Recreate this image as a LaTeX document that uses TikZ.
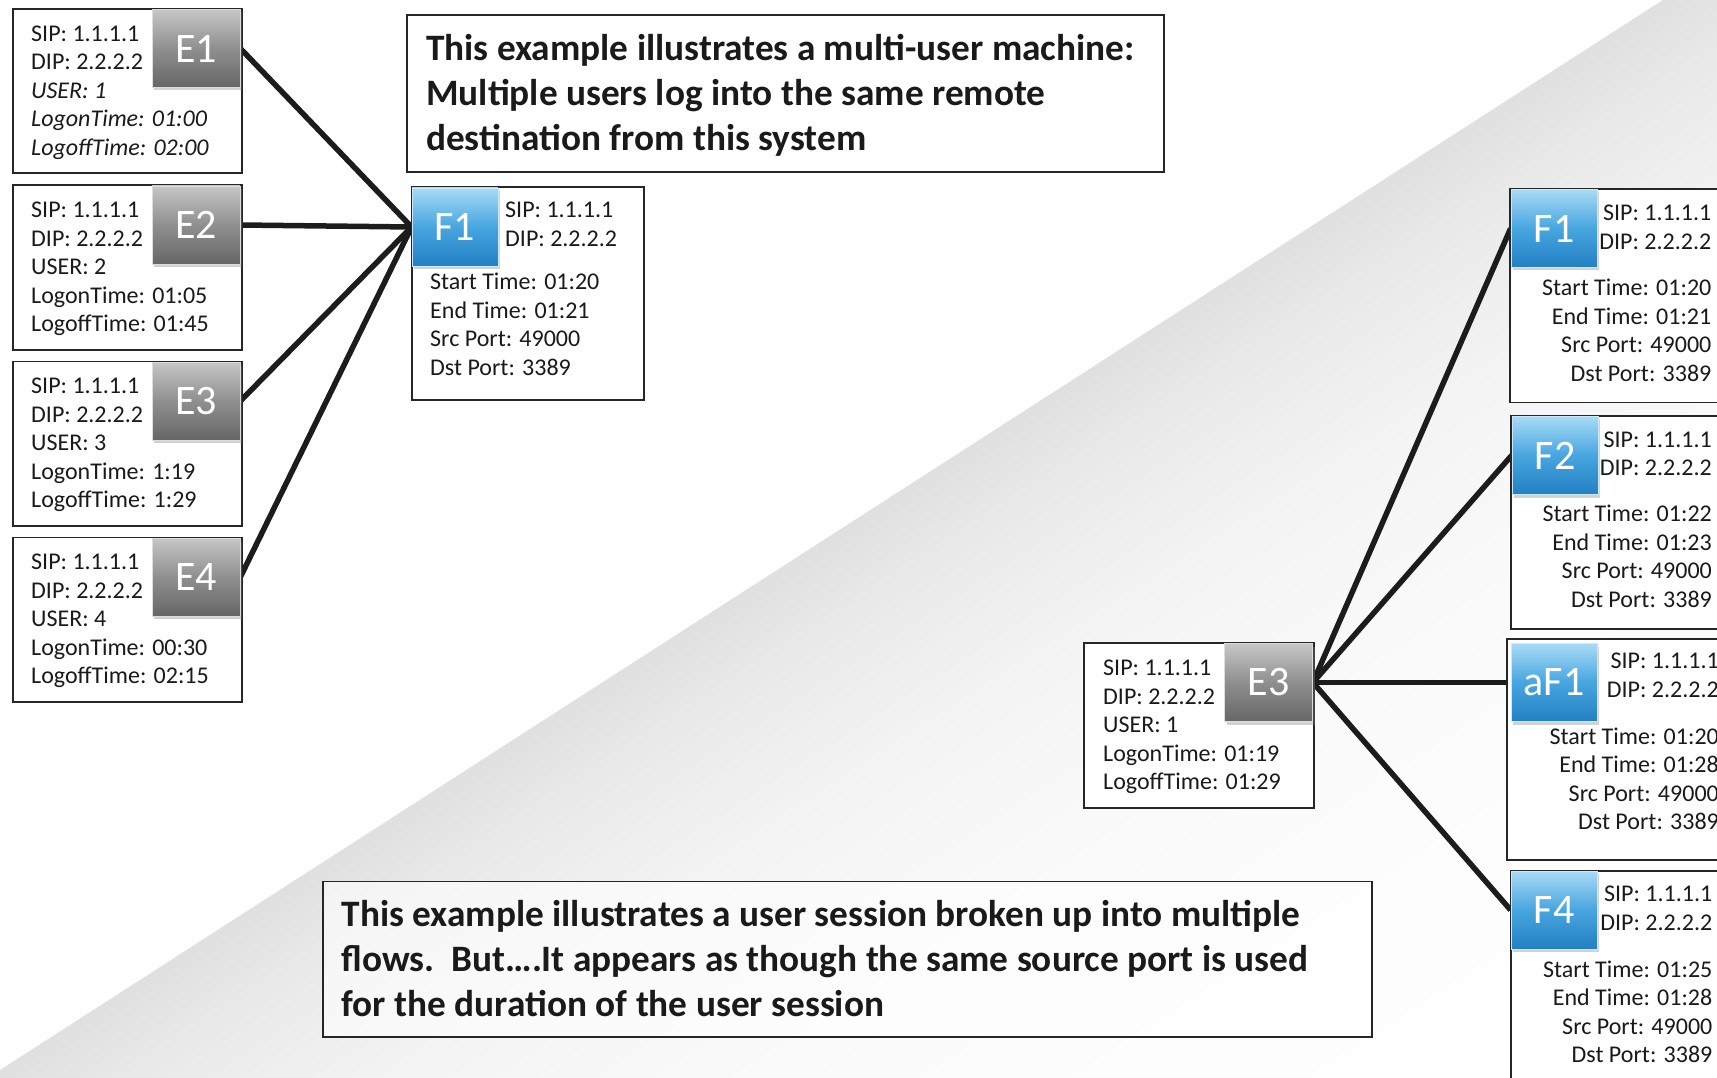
\documentclass[tikz,border=0pt]{standalone}
\usepackage{fontspec}
\setmainfont{Carlito}
\usetikzlibrary{shadows}

\definecolor{linkink}{HTML}{1C1C1C}
\definecolor{boxedge}{HTML}{262626}
\definecolor{bodyink}{HTML}{1A1A1A}
\definecolor{etop}{HTML}{C6C6C6}
\definecolor{emid}{HTML}{8F8F8F}
\definecolor{ebot}{HTML}{666666}
\definecolor{ftop}{HTML}{A8DBF6}
\definecolor{fmid}{HTML}{47A5DF}
\definecolor{fbot}{HTML}{2280C4}

\pgfdeclarelayer{backdrop}
\pgfdeclarelayer{links}
\pgfsetlayers{backdrop,links,main}

\tikzset{
  infobox/.style={draw=boxedge, line width=1.8pt, fill=white, inner sep=0pt, anchor=north west},
  notebox/.style={draw=boxedge, line width=1.8pt, fill=white, fill opacity=0.6, inner sep=0pt, anchor=north west},
  bodytext/.style={text=bodyink, inner sep=0pt, font=\fontsize{24}{28.5}\selectfont},
  ltext/.style={bodytext, align=left, anchor=north west},
  rtext/.style={bodytext, align=right, anchor=north east},
  notetext/.style={text=bodyink, inner sep=0pt, align=left, anchor=north west, font=\bfseries\fontsize{37.3}{45}\selectfont},
  tile/.style={inner sep=0pt, text=white, font=\fontsize{42}{42}\selectfont, line width=0.8pt,
    drop shadow={shadow xshift=2pt, shadow yshift=-3pt, opacity=0.35}},
  etile/.style={tile, minimum width=88pt, minimum height=78pt, draw=etop!60!white, top color=etop, bottom color=ebot, middle color=emid},
  ftile/.style={tile, minimum width=86pt, minimum height=78pt, draw=ftop!60!white, top color=ftop, bottom color=fbot, middle color=fmid},
  link/.style={draw=linkink, line width=5.5pt},
}

\begin{document}
\begin{tikzpicture}[x=1pt,y=-1pt]
\useasboundingbox (0,0) rectangle (1717,1078);

% page backdrop: white sheet with a grey diagonal fold
\begin{pgfonlayer}{backdrop}
  \fill[white] (0,0) rectangle (1717,1078);
  \begin{scope}
    \clip (-20,1082.9) -- (1694,-20) -- (1740,-20) -- (1740,1100) -- (-20,1100) -- cycle;
    \foreach \d in {0,8,...,960}{
      \pgfmathsetmacro\amt{12*exp(-\d/230)}
      \pgfmathsetmacro\ca{1070+\d/0.841}
      \pgfmathsetmacro\cb{1070+(\d+9)/0.841}
      \fill[black!\amt] (-20,\ca+12.87) -- (1740,\ca-1119.6) -- (1740,\cb-1119.6) -- (-20,\cb+12.87) -- cycle;
    }
    \foreach \s in {800,820,...,1980}{
      \pgfmathsetmacro\xa{1663-0.841*\s}
      \pgfmathsetmacro\ya{0.541*\s}
      \fill[white, opacity=0.014] (\xa,\ya) -- (\xa+649,\ya+1009) -- (125.6,2415.6) -- (-523.6,1406.6) -- cycle;
    }
  \end{scope}
\end{pgfonlayer}

% ---- left: four user sessions sharing one flow ----
\node[infobox, minimum width=229pt, minimum height=164.5pt] (e1box) at (12,8) {};
\node[ltext] (e1txt) at (31,25.5) {SIP: 1.1.1.1\\DIP: 2.2.2.2\\\textit{USER: 1}\\\textit{LogonTime: 01:00}\\\textit{LogoffTime: 02:00}};
\node[etile] (e1tile) at (196,48.5) {E1};

\node[infobox, minimum width=229pt, minimum height=164.5pt] (e2box) at (12,184.5) {};
\node[ltext] (e2txt) at (31,202) {SIP: 1.1.1.1\\DIP: 2.2.2.2\\USER: 2\\LogonTime: 01:05\\LogoffTime: 01:45};
\node[etile] (e2tile) at (196,225) {E2};

\node[infobox, minimum width=229pt, minimum height=164.5pt] (e3box) at (12,360.5) {};
\node[ltext] (e3txt) at (31,378) {SIP: 1.1.1.1\\DIP: 2.2.2.2\\USER: 3\\LogonTime: 1:19\\LogoffTime: 1:29};
\node[etile] (e3tile) at (196,401) {E3};

\node[infobox, minimum width=229pt, minimum height=164.5pt] (e4box) at (12,536.5) {};
\node[ltext] (e4txt) at (31,554) {SIP: 1.1.1.1\\DIP: 2.2.2.2\\USER: 4\\LogonTime: 00:30\\LogoffTime: 02:15};
\node[etile] (e4tile) at (196,577) {E4};

\node[infobox, minimum width=232pt, minimum height=213pt] (flbox) at (411,186) {};
\node[ltext] (flhead) at (505,202) {SIP: 1.1.1.1\\DIP: 2.2.2.2};
\node[ltext] (flbody) at (430,273) {Start Time: 01:20\\End Time: 01:21\\Src Port: 49000\\Dst Port: 3389};
\node[ftile] (fltile) at (455,227) {F1};

\node[notebox, minimum width=757pt, minimum height=156.5pt] (topnote) at (406,14.5) {};
\node[notetext] (topnotetxt) at (426,34.5) {This example illustrates a multi-user machine:\\Multiple users log into the same remote\\destination from this system};

% ---- right: one user session split into several flows ----
\node[infobox, minimum width=230pt, minimum height=165pt] (rebox) at (1083,642) {};
\node[ltext] (retxt) at (1103,660) {SIP: 1.1.1.1\\DIP: 2.2.2.2\\USER: 1\\LogonTime: 01:19\\LogoffTime: 01:29};
\node[etile] (retile) at (1268.5,682.5) {E3};

\node[infobox, minimum width=240pt, minimum height=213pt] (rf1box) at (1509,188.5) {};
\node[rtext] (rf1head) at (1711.5,205) {SIP: 1.1.1.1\\DIP: 2.2.2.2};
\node[rtext] (rf1body) at (1711.5,279) {Start Time: 01:20\\End Time: 01:21\\Src Port: 49000\\Dst Port: 3389};
\node[ftile] (rf1tile) at (1554,228.5) {F1};

\node[infobox, minimum width=240pt, minimum height=213pt] (rf2box) at (1510,415) {};
\node[rtext] (rf2head) at (1712,431.5) {SIP: 1.1.1.1\\DIP: 2.2.2.2};
\node[rtext] (rf2body) at (1712,505) {Start Time: 01:22\\End Time: 01:23\\Src Port: 49000\\Dst Port: 3389};
\node[ftile] (rf2tile) at (1555,455.5) {F2};

\node[infobox, minimum width=240pt, minimum height=221pt] (raf1box) at (1506,638) {};
\node[rtext] (raf1head) at (1719,653) {SIP: 1.1.1.1\\DIP: 2.2.2.2};
\node[rtext] (raf1body) at (1719,727.5) {Start Time: 01:20\\End Time: 01:28\\Src Port: 49000\\Dst Port: 3389};
\node[ftile] (raf1tile) at (1554,682.5) {aF1};

\node[infobox, minimum width=240pt, minimum height=240pt] (rf4box) at (1510,870) {};
\node[rtext] (rf4head) at (1712.5,886) {SIP: 1.1.1.1\\DIP: 2.2.2.2};
\node[rtext] (rf4body) at (1712.5,960.5) {Start Time: 01:25\\End Time: 01:28\\Src Port: 49000\\Dst Port: 3389};
\node[ftile] (rf4tile) at (1554,910) {F4};

\node[notebox, minimum width=1049pt, minimum height=155.5pt] (lownote) at (322,880.5) {};
\node[notetext] (lownotetxt) at (341.5,900.5) {This example illustrates a user session broken up into multiple\\flows.\ \ But….It appears as though the same source port is used\\for the duration of the user session};

% ---- connectors ----
\begin{pgfonlayer}{links}
  \foreach \e in {e1tile,e2tile,e3tile,e4tile}
    \draw[link] (\e.east) -- (fltile.west);
  \foreach \f in {rf1tile,rf2tile,raf1tile,rf4tile}
    \draw[link] (retile.east) -- (\f.west);
\end{pgfonlayer}
\end{tikzpicture}
\end{document}
